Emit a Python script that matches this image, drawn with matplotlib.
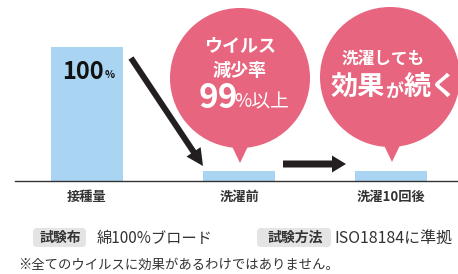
"""Virus reduction bar chart with speech-bubble callouts."""

import matplotlib
matplotlib.use('Agg')
import matplotlib.pyplot as plt
from matplotlib.patches import Circle, Polygon, FancyArrow, FancyBboxPatch

plt.rcParams['font.family'] = ['Noto Sans CJK JP', 'DejaVu Sans']

# ---------------------------------------------------------------------------
# Data
# ---------------------------------------------------------------------------
categories = ['接種量', '洗濯前', '洗濯10回後']
values = [100, 7.5, 7.5]
top_label = '100'
bubble1_lines = ['ウイルス', '減少率']
bubble1_big = ('99', '%以上')
bubble2_lines = ['洗濯しても']
bubble2_big = [('効果', 19.5), ('が', 13), ('続く', 19.5)]
note_tags = ['試験布', '試験方法']
note_values = ['綿100%ブロード', 'ISO18184に準拠']
footnote = '※全てのウイルスに効果があるわけではありません。'

BAR_COLOR = '#a9d4f2'
PINK = '#e8657f'
DARK = '#231f20'

W, H = 458, 274
fig = plt.figure(figsize=(W / 100, H / 100), dpi=100)
fig.patch.set_facecolor('white')

# ---------------------------------------------------------------------------
# Bar chart axes (full figure, scaled so bars land where the original has them)
# ---------------------------------------------------------------------------
ax = fig.add_axes([0, 0, 1, 1])
px_per_cat = 152.0
x0_px = 87.0
ax.set_xlim(-x0_px / px_per_cat, (W - x0_px) / px_per_cat)
base_from_bottom = H - 181
px_per_unit = 134 / 100.0
ax.set_ylim(-base_from_bottom / px_per_unit, (H - base_from_bottom) / px_per_unit)
ax.axis('off')

xs = list(range(len(categories)))
ax.bar(xs, values, width=0.475, color=BAR_COLOR, zorder=1)
ax.axhline(0, xmin=15 / W, xmax=1, color='#333333', lw=1.0, zorder=2)

for x, cat in zip(xs, categories):
    ax.text(x, -16 / px_per_unit, cat, ha='center', va='center',
            fontsize=9.5, fontweight='bold', color='#333333')

# ---------------------------------------------------------------------------
# Overlay axes in pixel units (y down) for callouts and notes
# ---------------------------------------------------------------------------
ov = fig.add_axes([0, 0, 1, 1], zorder=3)
ov.set_xlim(0, W)
ov.set_ylim(H, 0)
ov.axis('off')
ov.patch.set_alpha(0)
renderer = fig.canvas.get_renderer()

# "100%" on the first bar
ov.text(104, 72, top_label, ha='right', va='center', fontsize=17,
        fontweight='bold', color='#111111')
ov.text(105, 75, '%', ha='left', va='center', fontsize=7.5,
        fontweight='bold', color='#111111')

# speech bubbles
for cx, cy, tip in [(240, 78, (240, 163)), (390, 77, (392, 162))]:
    ov.add_patch(Circle((cx, cy), 70, color=PINK, lw=0))
    ov.add_patch(Polygon([(tip[0] - 11, cy + 62), (tip[0] + 11, cy + 62), tip],
                         closed=True, color=PINK, lw=0))

ov.text(240, 46, bubble1_lines[0], ha='center', va='center', fontsize=13,
        fontweight='bold', color='white')
ov.text(240, 70, bubble1_lines[1], ha='center', va='center', fontsize=13,
        fontweight='bold', color='white')
ov.text(238, 99, bubble1_big[0], ha='right', va='center', fontsize=24,
        fontweight='bold', color='white')
ov.text(234, 102, bubble1_big[1], ha='left', va='center', fontsize=13.5,
        color='white')

ov.text(383, 59, bubble2_lines[0], ha='center', va='center', fontsize=12,
        fontweight='bold', color='white')
# lay out the mixed-size line from measured widths
xcur = 331
for txt, fs in bubble2_big:
    t = ov.text(xcur, 88 if fs > 15 else 91, txt, ha='left', va='center',
                fontsize=fs, fontweight='bold', color='white')
    bb = t.get_window_extent(renderer)
    xcur += bb.width

# arrows
ov.add_patch(FancyArrow(131, 58, 72, 108, width=6, head_width=17, head_length=17,
                        length_includes_head=True, color=DARK, lw=0))
ov.add_patch(FancyArrow(283, 164, 63, 0, width=7, head_width=17, head_length=14,
                        length_includes_head=True, color=DARK, lw=0))

# test condition notes
for (x1, x2), tag, tx in [((33, 86), note_tags[0], 60), ((257, 331), note_tags[1], 295)]:
    ov.add_patch(FancyBboxPatch((x1, 228), x2 - x1, 19,
                                boxstyle='round,pad=0,rounding_size=4',
                                color='#e4e4e4', lw=0))
    ov.text(tx, 238, tag, ha='center', va='center', fontsize=10,
            fontweight='bold', color='#333333')
ov.text(97, 238, note_values[0], ha='left', va='center', fontsize=11,
        color='#333333')
ov.text(334, 238, note_values[1], ha='left', va='center', fontsize=11.5,
        color='#333333')
ov.text(18, 265, footnote, ha='left', va='center', fontsize=9.6,
        color='#333333')

fig.savefig('out.png', dpi=100, facecolor='white')
